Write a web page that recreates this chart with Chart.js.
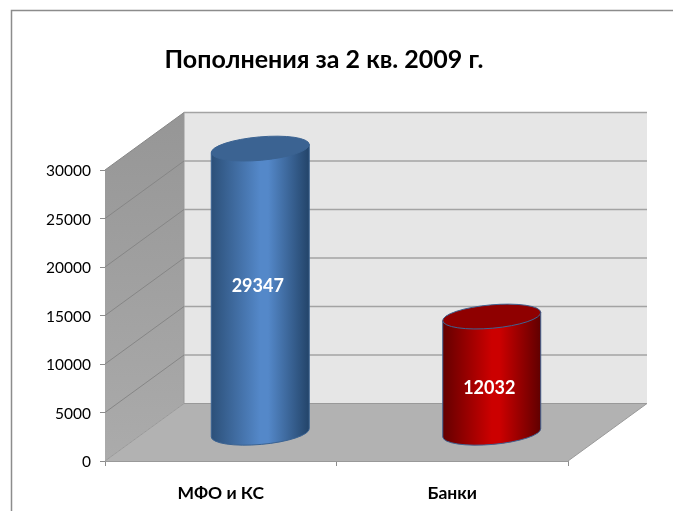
<!DOCTYPE html>
<html>
<head>
<meta charset="utf-8">
<script src="https://cdn.jsdelivr.net/npm/chart.js@4"></script>
<style>
body{margin:0;background:#fff}
canvas{display:block}
</style>
</head>
<body>
<canvas id="c" width="673" height="511"></canvas>
<script>
const categories=['МФО и КС','Банки'];
const values=[29347,12032];
const barColors=['#5488c9','#cc0000'];
const yTicks=[0,5000,10000,15000,20000,25000,30000];
const chartTitle='Пополнения за 2 кв. 2009 г.';

const FONT='Lato, "Open Sans", sans-serif';
// depth of the fake 3d box
const DX=79, DY=-57.5;

// side colours of each cylinder: edge, middle, edge, lid, outline
const shades=[
  {l:'#2c5079',m:'#5488c9',r:'#234469',top:'#3b6392',line:'#3b6392'},
  {l:'#640000',m:'#cc0000',r:'#600000',top:'#8f0000',line:'#3f6291'}
];
const labelShift=[[-2.5,-4],[-2.5,14]];

function drawBox(chart){
  const {ctx,chartArea:a,scales:{y}}=chart;
  ctx.save();
  // outer frame
  ctx.strokeStyle='#8c8c8c';
  ctx.lineWidth=1.5;
  ctx.strokeRect(11.5,10.5,700,600);
  // back wall
  ctx.fillStyle='#e6e6e6';
  ctx.fillRect(a.left+DX,a.top+DY,a.right-a.left,a.bottom-a.top);
  // side wall
  const g=ctx.createLinearGradient(0,a.top+DY,0,a.bottom);
  g.addColorStop(0,'#969696');
  g.addColorStop(1,'#ababab');
  ctx.fillStyle=g;
  ctx.beginPath();
  ctx.moveTo(a.left,a.top);
  ctx.lineTo(a.left+DX,a.top+DY);
  ctx.lineTo(a.left+DX,a.bottom+DY);
  ctx.lineTo(a.left,a.bottom);
  ctx.closePath();
  ctx.fill();
  // floor
  ctx.fillStyle='#b2b2b2';
  ctx.beginPath();
  ctx.moveTo(a.left,a.bottom);
  ctx.lineTo(a.right,a.bottom);
  ctx.lineTo(a.right+DX,a.bottom+DY);
  ctx.lineTo(a.left+DX,a.bottom+DY);
  ctx.closePath();
  ctx.fill();
  ctx.strokeStyle='#999';
  ctx.lineWidth=1;
  ctx.beginPath();
  ctx.moveTo(a.right,a.bottom);
  ctx.lineTo(a.right+DX,a.bottom+DY);
  ctx.lineTo(a.left+DX,a.bottom+DY);
  ctx.lineTo(a.left,a.bottom);
  ctx.moveTo(a.left+DX,a.top+DY);
  ctx.lineTo(a.left+DX,a.bottom+DY);
  ctx.stroke();
  // gridlines along both walls
  yTicks.forEach(v=>{
    const py=y.getPixelForValue(v);
    if(v>0){
      ctx.strokeStyle='#868686';
      ctx.lineWidth=1;
      ctx.beginPath();
      ctx.moveTo(a.left,py);
      ctx.lineTo(a.left+DX,py+DY);
      ctx.stroke();
      ctx.strokeStyle='#a3a3a3';
      ctx.lineWidth=1.5;
      ctx.beginPath();
      ctx.moveTo(a.left+DX,py+DY);
      ctx.lineTo(a.right+DX,py+DY);
      ctx.stroke();
    }
  });
  ctx.restore();
}

function drawCylinder(ctx,bar,i){
  const s=shades[i];
  const rot=-5*Math.PI/180;
  const rx=bar.width/2/Math.cos(rot), ry=11.7;
  const cx=bar.x+DX/2, top=bar.y+DY/2+1, bot=bar.base+DY/2+1;
  const ox=rx*Math.cos(rot), oy=rx*Math.sin(rot);
  const g=ctx.createLinearGradient(cx-ox,0,cx+ox,0);
  g.addColorStop(0,s.l);
  g.addColorStop(0.5,s.m);
  g.addColorStop(0.58,s.m);
  g.addColorStop(1,s.r);
  ctx.save();
  ctx.fillStyle=g;
  ctx.strokeStyle=s.line;
  ctx.lineWidth=1;
  ctx.beginPath();
  ctx.moveTo(cx-ox,top-oy);
  ctx.lineTo(cx-ox,bot-oy);
  ctx.ellipse(cx,bot,rx,ry,rot,Math.PI,0,true);
  ctx.lineTo(cx+ox,top+oy);
  ctx.closePath();
  ctx.fill();
  ctx.stroke();
  ctx.fillStyle=s.top;
  ctx.beginPath();
  ctx.ellipse(cx,top,rx,ry,rot,0,Math.PI*2);
  ctx.fill();
  ctx.stroke();
  // value
  ctx.fillStyle='#fff';
  ctx.font='bold 18px '+FONT;
  ctx.textAlign='center';
  ctx.textBaseline='middle';
  ctx.fillText(String(values[i]),cx+labelShift[i][0],(top+bot)/2+labelShift[i][1]);
  ctx.restore();
}

const box3d={
  id:'box3d',
  afterLayout(chart){
    // title sits over the whole box, not only the front plane
    chart.titleBlock.left+=40;
    chart.titleBlock.right+=40;
  },
  beforeDraw(chart){drawBox(chart);},
  beforeDatasetsDraw(chart){
    chart.getDatasetMeta(0).data.forEach((bar,i)=>drawCylinder(chart.ctx,bar,i));
    return false;
  }
};

new Chart(document.getElementById('c'),{
  type:'bar',
  data:{labels:categories,datasets:[{data:values,backgroundColor:barColors,barPercentage:0.4233,categoryPercentage:1}]},
  plugins:[box3d],
  options:{
    responsive:false,
    animation:false,
    layout:{padding:{left:0,right:105,top:0,bottom:0}},
    plugins:{
      legend:{display:false},
      tooltip:{enabled:false},
      title:{
        display:true,
        text:chartTitle,
        color:'#000',
        fullSize:true,
        font:{family:FONT,size:25,weight:'bold',lineHeight:1.2},
        padding:{top:45,bottom:95}
      }
    },
    scales:{
      x:{
        grid:{offset:true,drawOnChartArea:false,color:'#8c8c8c',tickLength:5},
        border:{color:'#999',width:1},
        ticks:{color:'#000',font:{family:FONT,size:17.5,weight:'bold'},padding:17,maxRotation:0},
        afterFit(s){s.height=50;}
      },
      y:{
        min:0,max:30000,
        afterBuildTicks(s){s.ticks=yTicks.map(v=>({value:v}));},
        grid:{drawOnChartArea:false,color:'#8c8c8c',tickLength:5},
        border:{display:false},
        ticks:{color:'#000',font:{family:FONT,size:15.5},padding:9,labelOffset:1,callback:v=>String(v)},
        afterFit(s){s.width=105;}
      }
    }
  }
});
</script>
</body>
</html>
